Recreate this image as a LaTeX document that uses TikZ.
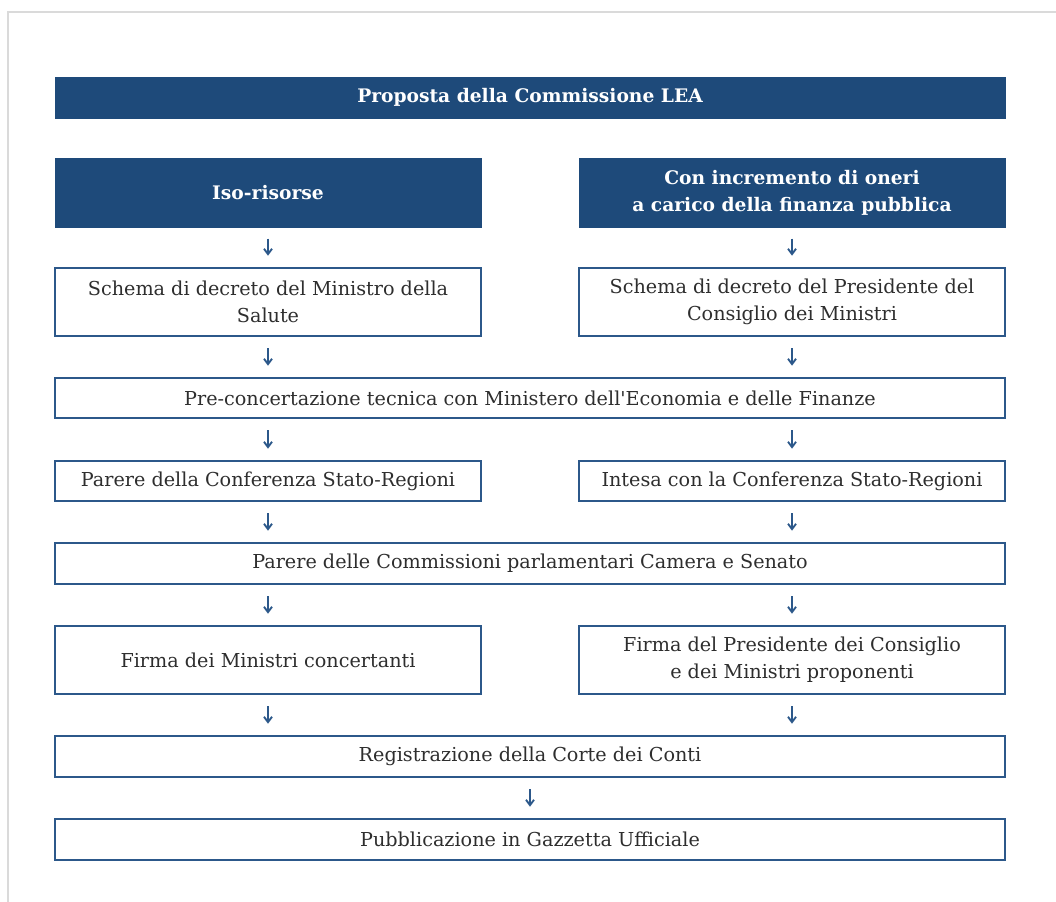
\documentclass[tikz,border=0pt]{standalone}
\usepackage{fontspec}
\setmainfont{DejaVu Serif}
\newfontfamily\aposfont{DejaVu Serif}[Ligatures=TeXOff]
\usetikzlibrary{arrows.meta}
\definecolor{hdrblue}{RGB}{30,74,122}
\definecolor{lineblue}{RGB}{44,88,138}
\definecolor{framegrey}{RGB}{218,218,218}
\tikzset{
  box/.style={draw=lineblue, line width=1.5pt, fill=white, align=center, inner sep=0pt,
    font=\fontsize{14.4}{20.25}\selectfont, text=black!82},
  hdr/.style={fill=hdrblue, draw=hdrblue, line width=0.5pt, align=center, inner sep=0pt,
    font=\fontsize{14}{20.25}\selectfont\bfseries, text=white},
  flow/.style={draw=lineblue, line width=1.4pt, -{Straight Barb[length=4pt,width=6pt]},
    shorten <=8.5pt, shorten >=8.5pt},
}
\begin{document}
\begin{tikzpicture}[x=0.75pt,y=-0.75pt]
\useasboundingbox (0,0) rectangle (1056,901);
\fill[white] (0,0) rectangle (1056,901);
\draw[framegrey, line width=1.5pt] (1060,12) -- (7.5,12) -- (7.5,905);
% nodes: centre x, centre y, width, height
\node[hdr, minimum width=950*0.75pt, minimum height=41*0.75pt] (top) at (530,97.5) {Proposta della Commissione LEA};
\node[hdr, minimum width=426*0.75pt, minimum height=69*0.75pt] (isoh) at (268,192.5) {Iso-risorse};
\node[hdr, minimum width=426*0.75pt, minimum height=69*0.75pt] (conh) at (792,192.5) {Con incremento di oneri\\a carico della finanza pubblica};
\node[box, minimum width=426*0.75pt, minimum height=68*0.75pt] (schL) at (268,302) {Schema di decreto del Ministro della\\Salute};
\node[box, minimum width=426*0.75pt, minimum height=68*0.75pt] (schR) at (792,302) {Schema di decreto del Presidente del\\Consiglio dei Ministri};
\node[box, minimum width=950*0.75pt, minimum height=40*0.75pt] (pre) at (530,398) {Pre-concertazione tecnica con Ministero dell{\aposfont'}Economia e delle Finanze};
\node[box, minimum width=426*0.75pt, minimum height=40*0.75pt] (parL) at (268,481) {Parere della Conferenza Stato-Regioni};
\node[box, minimum width=426*0.75pt, minimum height=40*0.75pt] (intR) at (792,481) {Intesa con la Conferenza Stato-Regioni};
\node[box, minimum width=950*0.75pt, minimum height=41*0.75pt] (par) at (530,563.5) {Parere delle Commissioni parlamentari Camera e Senato};
\node[box, minimum width=426*0.75pt, minimum height=68*0.75pt] (firL) at (268,660) {Firma dei Ministri concertanti};
\node[box, minimum width=426*0.75pt, minimum height=68*0.75pt] (firR) at (792,660) {Firma del Presidente dei Consiglio\\e dei Ministri proponenti};
\node[box, minimum width=950*0.75pt, minimum height=41*0.75pt] (reg) at (530,756.5) {Registrazione della Corte dei Conti};
\node[box, minimum width=950*0.75pt, minimum height=41*0.75pt] (pub) at (530,839.5) {Pubblicazione in Gazzetta Ufficiale};
% connectors
\draw[flow] (isoh.south) -- (schL.north);
\draw[flow] (conh.south) -- (schR.north);
\draw[flow] (schL.south) -- (schL.south |- pre.north);
\draw[flow] (schR.south) -- (schR.south |- pre.north);
\draw[flow] (parL.north |- pre.south) -- (parL.north);
\draw[flow] (intR.north |- pre.south) -- (intR.north);
\draw[flow] (parL.south) -- (parL.south |- par.north);
\draw[flow] (intR.south) -- (intR.south |- par.north);
\draw[flow] (firL.north |- par.south) -- (firL.north);
\draw[flow] (firR.north |- par.south) -- (firR.north);
\draw[flow] (firL.south) -- (firL.south |- reg.north);
\draw[flow] (firR.south) -- (firR.south |- reg.north);
\draw[flow] (reg.south) -- (pub.north);
\end{tikzpicture}
\end{document}
